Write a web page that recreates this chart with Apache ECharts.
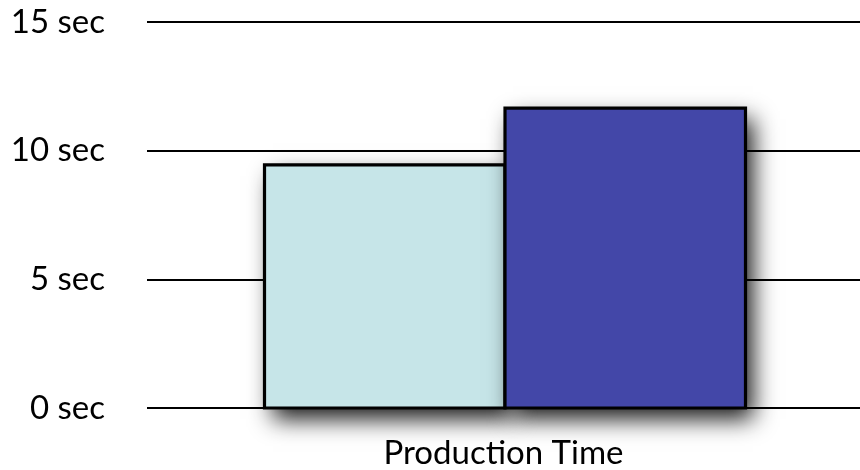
<!DOCTYPE html>
<html>
<head>
<meta charset="utf-8">
<script src="https://cdn.jsdelivr.net/npm/echarts@6/dist/echarts.min.js"></script>
<style>
  html, body { margin: 0; padding: 0; background: #ffffff; }
  #chart { width: 860px; height: 470px; }
</style>
</head>
<body>
<div id="chart"></div>
<script>
// Production time per run, in seconds
const categories = ['Production Time'];
const runA = [9.45];
const runB = [11.65];
const tickValues = [0, 5, 10, 15];

const fontFamily = 'Lato, "Open Sans", sans-serif';
const barFraction = 0.3373; // share of the category band taken by each bar

// Each bar is a filled rect casting a soft drop shadow, outlined by a
// separate black stroke so the outline's shadow does not fall inside the bar.
function makeBarRenderer(side, color) {
  return function (params, api) {
    const catIndex = api.value(0);
    const val = api.value(1);
    const top = api.coord([catIndex, val]);
    const base = api.coord([catIndex, 0]);
    const band = api.size([1, 0])[0];
    const w = band * barFraction;
    const x = side < 0 ? top[0] - w + 1.5 : top[0] + 1.5;
    const shape = { x: x, y: top[1], width: w, height: base[1] - top[1] };
    return {
      type: 'group',
      children: [
        {
          type: 'rect',
          shape: shape,
          style: {
            fill: color,
            shadowBlur: 22,
            shadowColor: 'rgba(0,0,0,0.9)',
            shadowOffsetX: 8,
            shadowOffsetY: 11
          }
        },
        {
          type: 'rect',
          shape: shape,
          style: { fill: null, stroke: '#000000', lineWidth: 3.2 }
        }
      ]
    };
  };
}

const toData = (arr) => arr.map((v, i) => [i, v]);

const chart = echarts.init(document.getElementById('chart'), null, { renderer: 'canvas' });
chart.setOption({
  animation: false,
  backgroundColor: '#ffffff',
  grid: { left: 147, right: 0, top: 22, bottom: 61, containLabel: false },
  xAxis: {
    type: 'category',
    data: categories,
    axisLine: { show: false },
    axisTick: { show: false },
    axisLabel: { color: '#000000', fontSize: 33, fontFamily: fontFamily, margin: 29 }
  },
  yAxis: {
    type: 'value',
    min: tickValues[0],
    max: tickValues[tickValues.length - 1],
    interval: 5,
    axisLine: { show: false },
    axisTick: { show: false },
    axisLabel: {
      color: '#000000',
      fontSize: 33,
      fontFamily: fontFamily,
      margin: 42,
      formatter: (v) => v + ' sec'
    },
    splitLine: { lineStyle: { color: '#000000', width: 2 } }
  },
  series: [
    {
      name: 'Run A',
      type: 'custom',
      data: toData(runA),
      encode: { x: 0, y: 1 },
      renderItem: makeBarRenderer(-1, '#c6e5e8')
    },
    {
      name: 'Run B',
      type: 'custom',
      data: toData(runB),
      encode: { x: 0, y: 1 },
      renderItem: makeBarRenderer(1, '#4347a8')
    }
  ]
});
</script>
</body>
</html>
